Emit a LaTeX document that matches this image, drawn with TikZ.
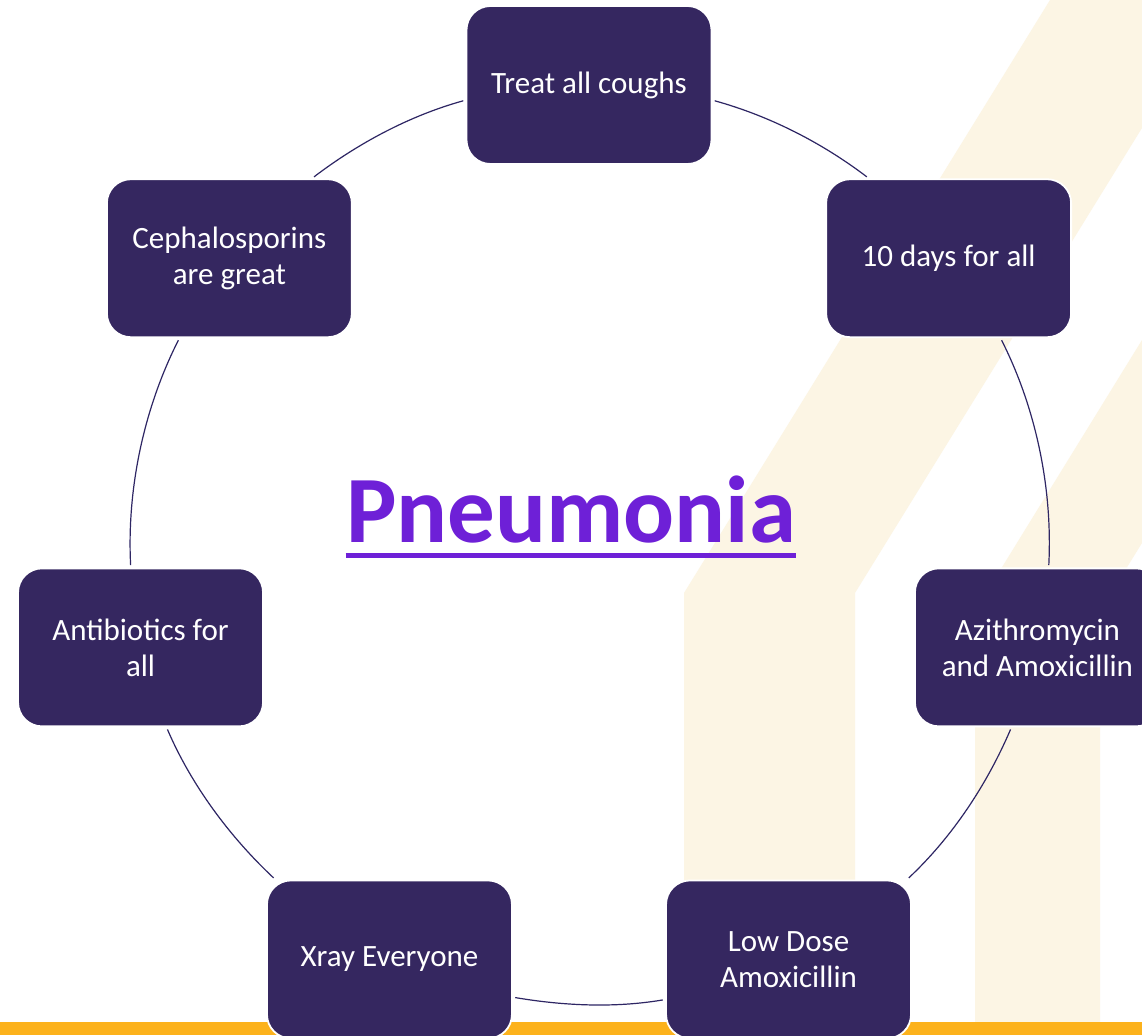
\documentclass[tikz,border=0pt]{standalone}
\usepackage{fontspec}
\setmainfont{Carlito}
\usepackage{xcolor}
\usepackage{tikz}

\definecolor{boxfill}{RGB}{53,39,96}
\definecolor{ringline}{RGB}{46,38,100}
\definecolor{titlepurple}{RGB}{110,32,215}
\definecolor{cream}{RGB}{252,245,228}
\definecolor{barorange}{RGB}{252,178,28}

\begin{document}
\begin{tikzpicture}[x=0.5pt, y=0.5pt,
        box/.style={rectangle, draw=white, line width=0.9pt, fill=boxfill, rounded corners=12pt, minimum width=122.5pt, minimum height=79pt, align=center, text=white, font=\fontsize{15.5}{18}\selectfont},
        ring/.style={ringline, line width=0.6pt, looseness=0.86, shorten <=1.2pt, shorten >=1.2pt}
    ]
        \useasboundingbox (0,0) rectangle (1142,1035);
        \fill[white] (0,0) rectangle (1142,1035);
        % background stripes and bottom bar
        \fill[cream] (684,0) -- (684,442) -- (1050,1035) -- (1142,1035) -- (1142,907) -- (855,442) -- (855,0) -- cycle;
        \fill[cream] (975,0) -- (975,424) -- (1142,695) -- (1142,492) -- (1100,424) -- (1100,0) -- cycle;
        \fill[barorange] (0,0) rectangle (1142,13);
        \coordinate (c) at (589,490);
        \node[box] (p1) at ([shift={(90:460)}]c) {Treat all coughs};
        \node[box] (p2) at ([shift={(38.57:460)}]c) {10 days for all};
        \node[box] (p3) at ([shift={(-12.86:460)}]c) {Azithromycin\\and Amoxicillin};
        \node[box] (p4) at ([shift={(-64.29:460)}]c) {Low Dose\\Amoxicillin};
        \node[box] (p5) at ([shift={(-115.71:460)}]c) {Xray Everyone};
        \node[box] (p6) at ([shift={(-167.14:460)}]c) {Antibiotics for\\all};
        \node[box] (p7) at ([shift={(141.43:460)}]c) {Cephalosporins\\are great};
        % ring segments, leaving each box where the circle crosses its edge
        \draw[ring] (p1.-7.72) to[out=-15.44, in=142.67] (p2.135.6);
        \draw[ring] (p2.-57.3) to[out=-63.14, in=87.08] (p3.82.1);
        \draw[ring] (p3.-108) to[out=-113.22, in=43.17] (p4.34.5);
        \draw[ring] (p4.-162.3) to[out=-170.35, in=-9.65] (p5.-17.7);
        \draw[ring] (p5.145.5) to[out=136.83, in=-66.78] (p6.-72);
        \draw[ring] (p6.97.9) to[out=92.92, in=-116.86] (p7.-122.7);
        \draw[ring] (p7.44.4) to[out=37.33, in=195.44] (p1.187.72);
        \node[text=titlepurple, inner sep=0pt, anchor=base, font=\fontsize{47.5}{57}\selectfont\bfseries] (title) at (571,492) {Pneumonia};
        \draw[titlepurple, line width=2.5pt] ([yshift=-6.5pt]title.base west) -- ([yshift=-6.5pt]title.base east);
    \end{tikzpicture}
\end{document}
